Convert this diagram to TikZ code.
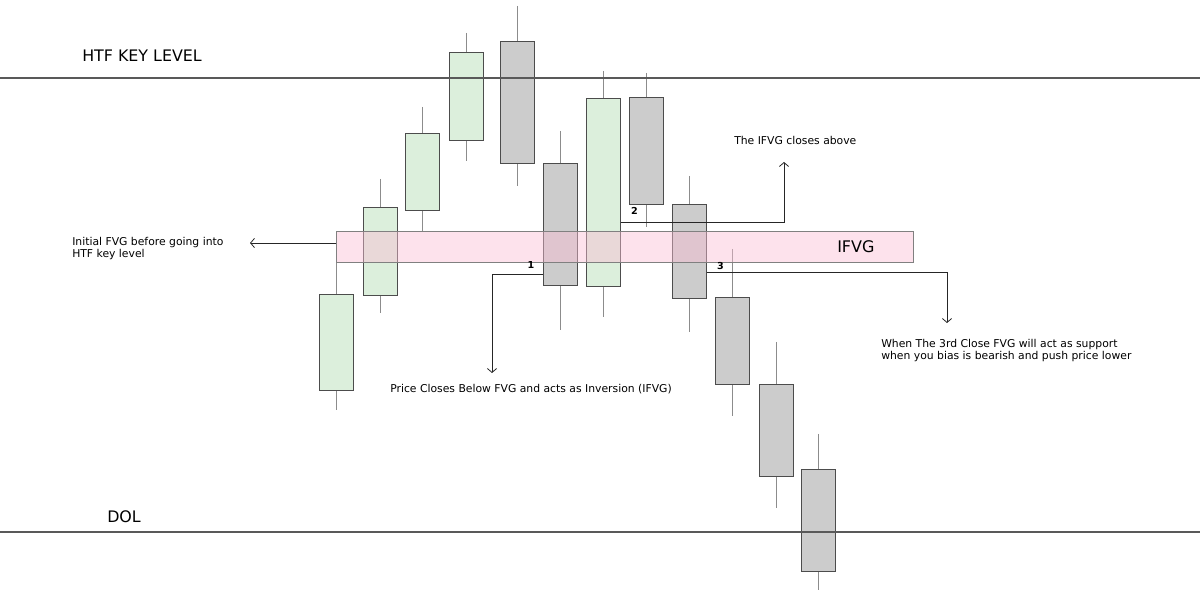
\documentclass[tikz,border=0pt]{standalone}
\usepackage{fontspec}
\setmainfont{DejaVu Sans}
\usetikzlibrary{arrows.meta}

\definecolor{bullfill}{RGB}{220,239,220}
\definecolor{bearfill}{RGB}{204,204,204}
\definecolor{zonefill}{RGB}{250,190,212}

\begin{document}
\begin{tikzpicture}[
  x=0.75pt, y=-0.75pt,
  >={Straight Barb[length=3pt,width=7pt]},
  every node/.style={font=\fontsize{8.1}{9}\selectfont}
]
\tikzset{
  body/.style  ={draw=black!70, line width=0.6pt, minimum width=25.5pt,
                 inner sep=0pt},
  bull/.style  ={body, fill=bullfill},
  bear/.style  ={body, fill=bearfill},
  wick/.style  ={draw=black!45, line width=0.6pt},
  level/.style ={draw=black!65, line width=0.8pt},
  zone/.style  ={draw=black!50, line width=0.6pt, fill=zonefill,
                 fill opacity=0.45, inner sep=0pt,
                 minimum width=432.4pt, minimum height=23.6pt},
  arr/.style   ={->, draw=black!85, line width=0.6pt},
  note/.style  ={anchor=west, inner sep=0pt, align=left},
  head/.style  ={note, font=\fontsize{11.9}{12}\selectfont},
  num/.style   ={inner sep=0pt, font=\fontsize{7.2}{8}\selectfont\bfseries}
}
\useasboundingbox (0,0) rectangle (1200,591);

%% ----- Candles: name / x / top / bottom / high / low / style -----
\foreach \n/\x/\t/\b/\hi/\lo/\s in {
    1/336.5/294/390/263/410/bull, 2/380/207/295/179/313/bull,
    3/422.5/133/210/107/231/bull, 4/466/52/140/33/161/bull,
    5/517.5/41/163/6/186/bear,    6/560.5/163/285/131/330/bear,
    7/603.5/98/286/71/317/bull,   8/646.5/97/204/73/227/bear,
    9/689.5/204/298/176/332/bear, 10/732.5/297/384/249/416/bear,
    11/776/384/476/342/508/bear,  12/818/469/571/434/590/bear}
{
  \draw[wick] (\x,\hi) -- (\x,\lo);
  \node[\s, minimum height={(\b-\t)*0.75pt}] (c\n) at (\x,{(\t+\b)/2}) {};
}

%% ----- FVG zone -----
\node[zone] (fvg) at (624.75,246.75) {};
\node[head, font=\fontsize{12}{13}\selectfont] (ifvg) at (837,246.5) {IFVG};

%% ----- Levels -----
\draw[level] (0,78) -- (1200,78);
\draw[level] (0,532) -- (1200,532);
\node[head] (htf) at (82,56) {HTF KEY LEVEL};
\node[head] (dol) at (107,517) {DOL};

%% ----- Closes 1, 2, 3 -----
\node[num] (n1) at (531,265) {1};
\node[num] (n2) at (634.5,211) {2};
\node[num] (n3) at (720.5,266) {3};

\coordinate (e1) at (492,373);
\coordinate (e2) at (784,162);
\coordinate (e3) at (947,323);
\coordinate (e4) at (250,243);

\draw[arr] (c6.west |- 0,274) -| (e1);
\draw[arr] (c7.east |- 0,222) -| (e2);
\draw[arr] (c9.east |- 0,272) -| (e3);
\draw[arr] (fvg.west |- 0,243) -- (e4);

%% ----- Notes -----
\node[note] (t1) at (390,389)
  {Price Closes Below FVG and acts as Inversion (IFVG)};
\node[note] (t2) at (734,140) {The IFVG closes above};
\node[note] (t3) at (881,351)
  {When The 3rd Close FVG will act as support\\
   when you bias is bearish and push price lower};
\node[note] (t4) at (72,249)
  {Initial FVG before going into\\HTF key level};

\end{tikzpicture}
\end{document}
